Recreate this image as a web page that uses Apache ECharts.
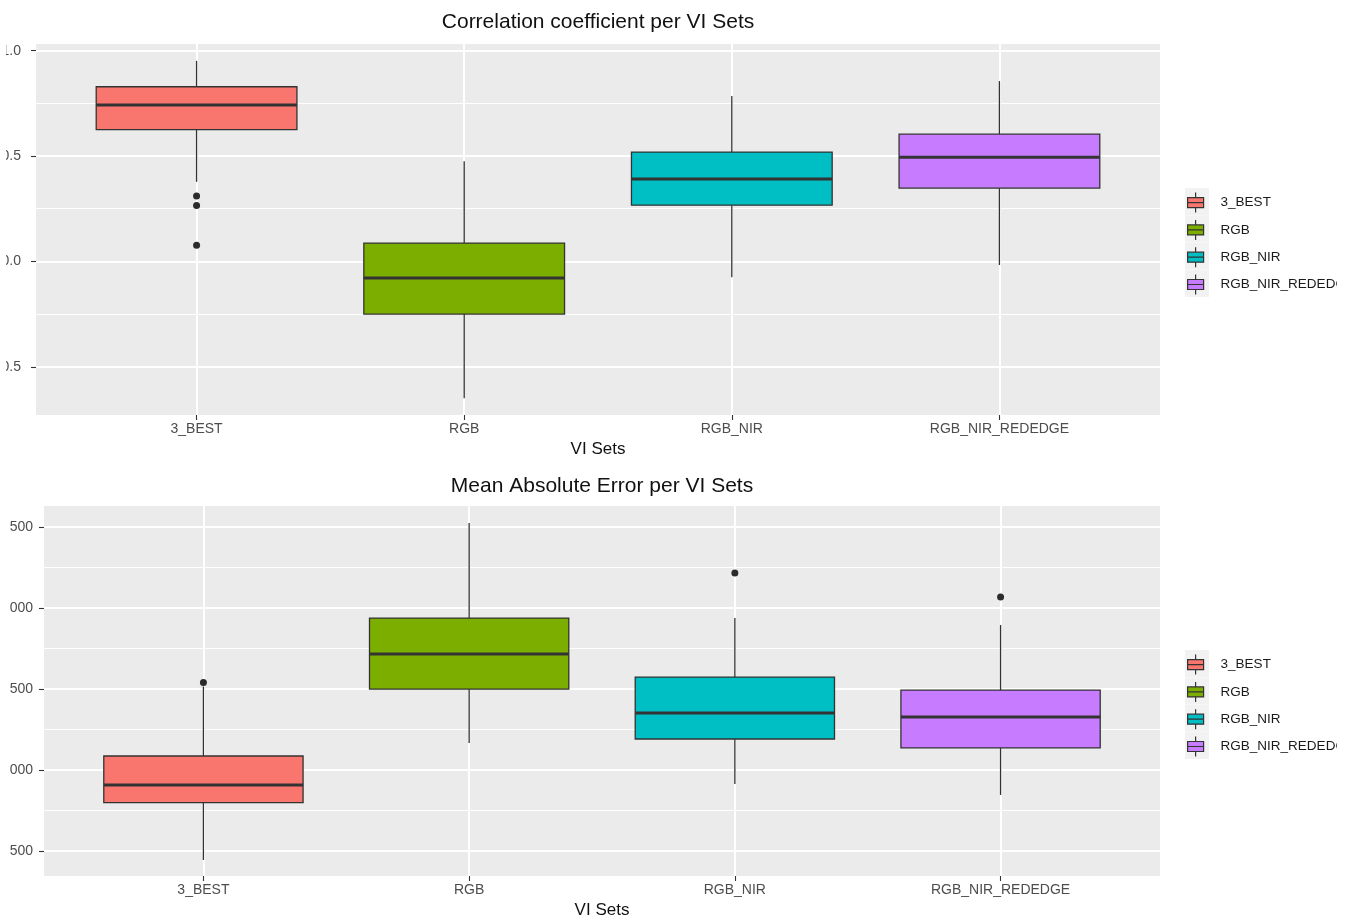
<!DOCTYPE html>
<html>
<head>
<meta charset="utf-8">
<script src="https://cdn.jsdelivr.net/npm/echarts@6/dist/echarts.min.js"></script>
<style>
  html, body { margin: 0; padding: 0; background: #fff; width: 1349px; height: 920px; overflow: hidden; }
  .panel { position: absolute; overflow: hidden; }
  #corr { left: 6px; top: 0; width: 1331px; height: 462px; }
  #mae { left: 10px; top: 462px; width: 1327px; height: 458px; }
</style>
</head>
<body>
<div id="corr" class="panel"></div>
<div id="mae" class="panel"></div>
<script>
// ---- data ----
const viSets = ['3_BEST', 'RGB', 'RGB_NIR', 'RGB_NIR_REDEDGE'];
const setColors = ['#F8766D', '#7CAE00', '#00BFC4', '#C77CFF'];

// box statistics per set: [lower whisker, Q1, median, Q3, upper whisker]
const corrStats = [
  [0.378, 0.626, 0.742, 0.829, 0.952],
  [-0.649, -0.250, -0.079, 0.087, 0.476],
  [-0.075, 0.267, 0.391, 0.519, 0.785],
  [-0.017, 0.348, 0.495, 0.604, 0.856]
];
// outliers: [set index, value]
const corrOutliers = [[0, 0.310], [0, 0.266], [0, 0.077]];
const corrMajorTicks = [-0.5, 0, 0.5, 1.0];
const corrMinorTicks = [-0.25, 0.25, 0.75];

const maeStats = [
  [445, 798, 908, 1086, 1515],
  [1166, 1499, 1715, 1937, 2523],
  [914, 1191, 1351, 1573, 1937],
  [846, 1136, 1327, 1493, 1894]
];
const maeOutliers = [[0, 1540], [2, 2215], [3, 2067]];
const maeMajorTicks = [500, 1000, 1500, 2000, 2500];
const maeMinorTicks = [750, 1250, 1750, 2250];

// ---- drawing ----
const FONT = '"Liberation Sans", Arial, Helvetica, sans-serif';
const EDGE = '#333333';

function boxRenderer(color) {
  return function (params, api) {
    const x = api.value(0);
    const lo = api.coord([x, api.value(1)]);
    const q1 = api.coord([x, api.value(2)]);
    const md = api.coord([x, api.value(3)]);
    const q3 = api.coord([x, api.value(4)]);
    const hi = api.coord([x, api.value(5)]);
    const w = api.size([1, 0])[0] * 0.75;
    const cx = lo[0];
    const edge = { stroke: EDGE, lineWidth: 1.3 };
    return {
      type: 'group',
      children: [
        { type: 'line', shape: { x1: cx, y1: hi[1], x2: cx, y2: q3[1] }, style: edge },
        { type: 'line', shape: { x1: cx, y1: q1[1], x2: cx, y2: lo[1] }, style: edge },
        { type: 'rect', shape: { x: cx - w / 2, y: q3[1], width: w, height: q1[1] - q3[1] },
          style: { fill: color, stroke: EDGE, lineWidth: 1.3 } },
        { type: 'line', shape: { x1: cx - w / 2, y1: md[1], x2: cx + w / 2, y2: md[1] },
          style: { stroke: EDGE, lineWidth: 3 } }
      ]
    };
  };
}

const KEY_ICON = 'path://M8,0L8,5M0,5L16,5L16,10L0,10ZM0,10L16,10L16,15L0,15ZM8,15L8,20';

function buildOption(cfg) {
  const panelCenter = cfg.grid.left + cfg.grid.width / 2;
  const series = viSets.map((name, i) => ({
    type: 'custom',
    name: name,
    itemStyle: { color: setColors[i] },
    renderItem: boxRenderer(setColors[i]),
    encode: { x: 0, y: [1, 2, 3, 4, 5] },
    data: [[i].concat(cfg.stats[i])],
    z: 3,
    silent: true
  }));
  series.push({
    type: 'scatter',
    name: 'outliers',
    data: cfg.outliers,
    symbolSize: 7,
    itemStyle: { color: '#2b2b2b', opacity: 1 },
    z: 4,
    silent: true
  });
  const tickLine = { color: EDGE, width: 1.1 };
  return {
    animation: false,
    backgroundColor: '#fff',
    title: {
      text: cfg.title,
      left: panelCenter,
      top: cfg.titleTop,
      padding: 0,
      textAlign: 'center',
      textStyle: { fontFamily: FONT, fontSize: 21, fontWeight: 'normal', color: '#111' }
    },
    grid: {
      left: cfg.grid.left, top: cfg.grid.top, width: cfg.grid.width, height: cfg.grid.height,
      show: true, backgroundColor: '#EBEBEB', borderWidth: 0,
      containLabel: false, outerBoundsMode: 'none'
    },
    xAxis: {
      type: 'value', min: -0.6, max: 3.6,
      name: 'VI Sets', nameLocation: 'middle', nameGap: cfg.nameGap,
      nameTextStyle: { fontFamily: FONT, fontSize: 17, color: '#111' },
      axisLine: { show: false, onZero: false },
      axisTick: { show: true, length: 5, customValues: [0, 1, 2, 3], lineStyle: tickLine },
      axisLabel: {
        customValues: [0, 1, 2, 3], margin: 7,
        formatter: v => viSets[Math.round(v)],
        fontFamily: FONT, fontSize: 14, color: '#4D4D4D'
      },
      splitLine: { show: true, lineStyle: { color: '#fff', width: 2 } }
    },
    yAxis: [{
      type: 'value', min: cfg.yMin, max: cfg.yMax, position: 'left',
      axisLine: { show: false, onZero: false },
      axisTick: { show: true, length: 5, customValues: cfg.major, lineStyle: tickLine },
      axisLabel: {
        customValues: cfg.major, margin: cfg.labelMargin,
        formatter: cfg.fmt, fontFamily: FONT, fontSize: 14, color: '#4D4D4D'
      },
      splitLine: { show: true, lineStyle: { color: '#fff', width: 2 } }
    }, {
      type: 'value', min: cfg.yMin, max: cfg.yMax, position: 'left',
      axisLine: { show: false, onZero: false },
      axisTick: { show: false, customValues: cfg.minor },
      axisLabel: { show: false, customValues: cfg.minor },
      splitLine: { show: true, lineStyle: { color: '#fff', width: 1 } }
    }],
    legend: [{
      orient: 'vertical', left: cfg.legendLeft - 2, top: cfg.legendTop - 4, padding: 0,
      itemWidth: 24, itemHeight: 27, itemGap: 0.3,
      icon: 'rect', selectedMode: false,
      data: viSets.map(n => ({ name: n, itemStyle: { color: '#F2F2F2', borderWidth: 0 } })),
      formatter: () => '',
      textStyle: { fontSize: 1 },
      z: 4
    }, {
      orient: 'vertical', left: cfg.legendLeft, top: cfg.legendTop, padding: 0,
      itemWidth: 16, itemHeight: 20, itemGap: 6.1,
      icon: KEY_ICON, selectedMode: false,
      itemStyle: { borderColor: EDGE, borderWidth: 1.2 },
      textStyle: { fontFamily: FONT, fontSize: 13.5, color: '#1a1a1a', padding: [0, 0, 0, 12] },
      data: viSets,
      z: 6
    }],
    series: series
  };
}

const corrChart = echarts.init(document.getElementById('corr'), null, { renderer: 'canvas' });
corrChart.setOption(buildOption({
  title: 'Correlation coefficient per VI Sets',
  titleTop: 12,
  grid: { left: 30, top: 44, width: 1124, height: 371 },
  yMin: -0.729, yMax: 1.032,
  major: corrMajorTicks, minor: corrMinorTicks,
  fmt: v => Number(v).toFixed(1),
  labelMargin: 15,
  nameGap: 23,
  stats: corrStats, outliers: corrOutliers,
  legendLeft: 1181, legendTop: 192
}));

const maeChart = echarts.init(document.getElementById('mae'), null, { renderer: 'canvas' });
maeChart.setOption(buildOption({
  title: 'Mean Absolute Error per VI Sets',
  titleTop: 14,
  grid: { left: 34, top: 44, width: 1116, height: 370 },
  yMin: 346, yMax: 2628,
  major: maeMajorTicks, minor: maeMinorTicks,
  fmt: v => String(Math.round(v)),
  labelMargin: 11,
  nameGap: 25,
  stats: maeStats, outliers: maeOutliers,
  legendLeft: 1177, legendTop: 192
}));
</script>
</body>
</html>
